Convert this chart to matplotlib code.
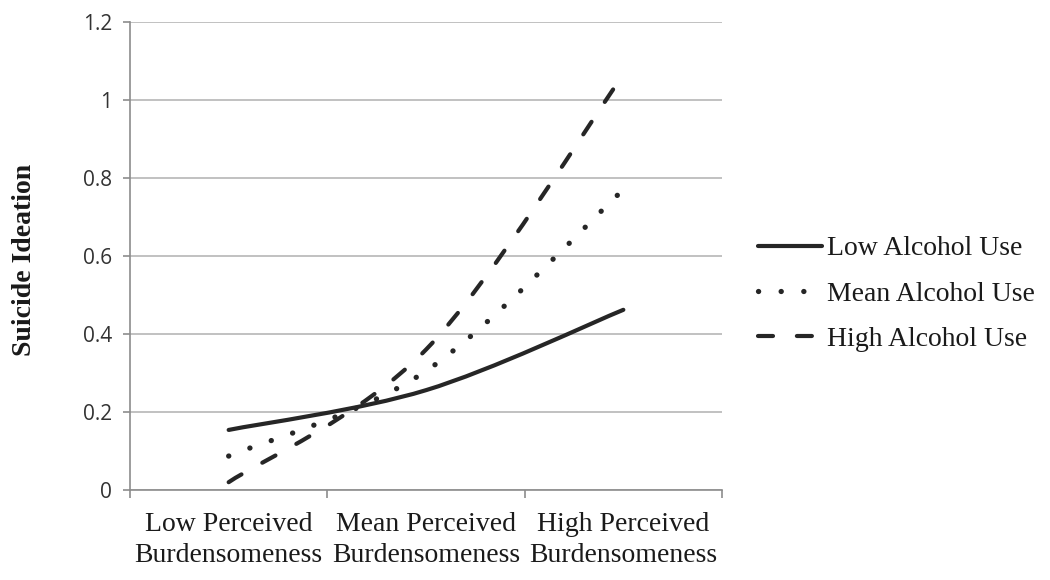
import matplotlib
matplotlib.use("Agg")
import matplotlib.pyplot as plt
from matplotlib.path import Path
from matplotlib.patches import PathPatch
from matplotlib.lines import Line2D

# data
categories = ["Low Perceived\nBurdensomeness", "Mean Perceived\nBurdensomeness", "High Perceived\nBurdensomeness"]
series_names = ["Low Alcohol Use", "Mean Alcohol Use", "High Alcohol Use"]
low_use = [0.154, 0.256, 0.462]
mean_use = [0.087, 0.305, 0.770]
high_use = [0.020, 0.360, 1.065]
yticks = [0, 0.2, 0.4, 0.6, 0.8, 1.0, 1.2]
ytick_labels = ["0", "0.2", "0.4", "0.6", "0.8", "1", "1.2"]

ink = "#262626"
grid_col = "#bcbcbc"
serif = "Liberation Serif"

plt.rcParams["lines.scale_dashes"] = False


def smooth_path(xs, ys):
    # excel style smoothed line: cubic bezier segments through the points
    pts = list(zip(xs, ys))
    n = len(pts)
    verts = [pts[0]]
    codes = [Path.MOVETO]
    for i in range(n - 1):
        p0 = pts[i - 1] if i > 0 else pts[i]
        p1 = pts[i]
        p2 = pts[i + 1]
        p3 = pts[i + 2] if i + 2 < n else pts[i + 1]
        c1 = (p1[0] + (p2[0] - p0[0]) / 6, p1[1] + (p2[1] - p0[1]) / 6)
        c2 = (p2[0] - (p3[0] - p1[0]) / 6, p2[1] - (p3[1] - p1[1]) / 6)
        verts += [c1, c2, p2]
        codes += [Path.CURVE4] * 3
    return Path(verts, codes)


fig = plt.figure(figsize=(10.5, 5.8), dpi=100)
ax = fig.add_axes([130 / 1050, 1 - 490 / 580, 592 / 1050, 468 / 580])

x = list(range(len(categories)))
styles = [
    dict(linestyle="solid", linewidth=3.0),
    dict(linestyle=(0, (0.1, 16.2)), linewidth=3.8),
    dict(linestyle=(0, (10.8, 17.2)), linewidth=3.0),
]
handles = []
for vals, st, name in zip([low_use, mean_use, high_use], styles, series_names):
    patch = PathPatch(smooth_path(x, vals), facecolor="none", edgecolor=ink,
                      capstyle="round", joinstyle="round", zorder=3, **st)
    ax.add_patch(patch)
    handles.append(Line2D([], [], color=ink, dash_capstyle="round",
                          solid_capstyle="round", label=name, **st))

ax.set_xlim(-0.5, 2.5)
ax.set_ylim(0, 1.2)
ax.set_yticks(yticks)
ax.set_yticklabels(ytick_labels, fontfamily="Open Sans", fontsize=15, color="#333333")
ax.yaxis.grid(True, color=grid_col, linewidth=1.3)
ax.set_axisbelow(True)

ax.set_xticks(x)
ax.set_xticklabels(categories, fontfamily=serif, fontsize=20, color="#1a1a1a",
                   linespacing=1.3)
ax.set_xticks([-0.5, 0.5, 1.5, 2.5], minor=True)
ax.tick_params(axis="x", which="major", length=0, pad=16)
ax.tick_params(axis="x", which="minor", length=6, color="#8c8c8c", width=1.2)
ax.tick_params(axis="y", length=5, color="#8c8c8c", width=1.2, pad=8)

for s in ["top", "right"]:
    ax.spines[s].set_visible(False)
for s in ["left", "bottom"]:
    ax.spines[s].set_color("#8c8c8c")
    ax.spines[s].set_linewidth(1.2)

fig.text(25 / 1050, 1 - 260 / 580, "Suicide Ideation", rotation=90,
         ha="center", va="center", fontfamily=serif, fontweight="bold",
         fontsize=20, color="#1a1a1a")

fig.legend(handles=handles, loc="center left", bbox_to_anchor=(758 / 1050, 1 - 294 / 580),
           frameon=False, prop={"family": serif, "size": 20}, handlelength=2.3,
           handletextpad=0.2, labelspacing=0.72, borderpad=0, borderaxespad=0,
           labelcolor="#1a1a1a")

fig.savefig("out.png", dpi=100)
